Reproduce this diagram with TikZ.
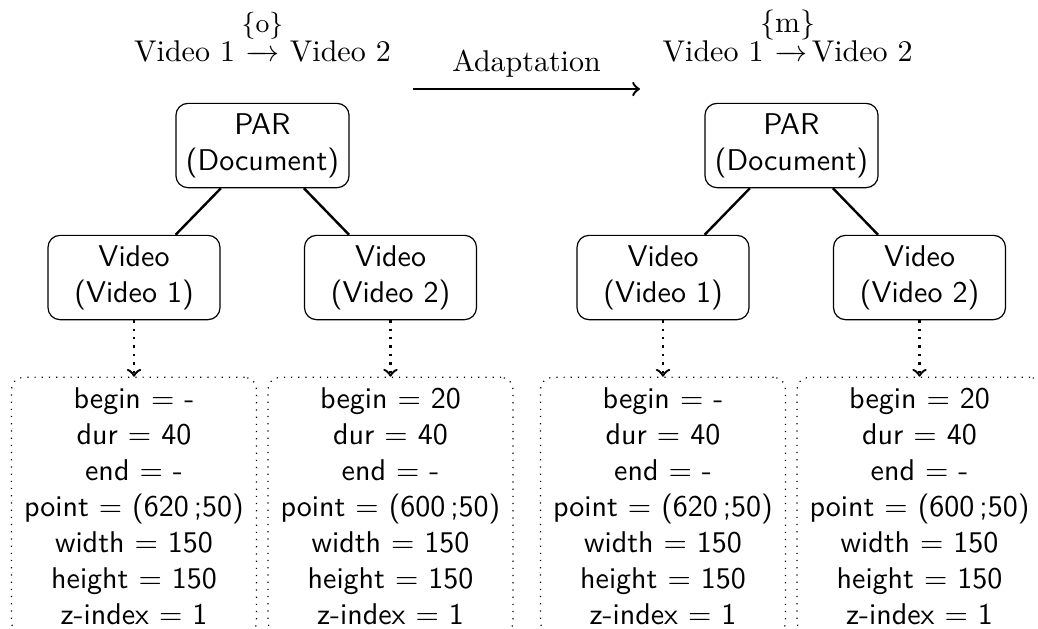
\documentclass[tikz,border=0pt]{standalone}
\begin{document}
\begin{tikzpicture}[x=0.33333pt, y=-0.33333pt,
  box/.style={draw, rounded corners=4pt, font=\sffamily, align=center,
    minimum width=57.33pt, minimum height=27.67pt, inner sep=3.33pt},
  props/.style={draw, dotted, rounded corners=4pt, font=\sffamily, align=center,
    minimum width=81.67pt, anchor=north, inner sep=3.33pt},
  edgeline/.style={thick},
  dotarrow/.style={thick, dotted, ->},
  toplbl/.style={inner sep=0pt, anchor=base}]
\useasboundingbox (0,0) rectangle (1038,628);
\clip (0,0) rectangle (1038,628);

% top formulas
\node[toplbl] (fa2) at (262.5,61) {$\mathrel{\relbar\mkern-12mu\rightarrow}$};
\node[inner sep=0pt, anchor=base east] (fa1) at ([xshift=-3.2pt]fa2.base west) {Video 1};
\node[inner sep=0pt, anchor=base west] (fa3) at ([xshift=3.2pt]fa2.base east) {Video 2};
\node[toplbl] (fa4) at (262.5,32) {\fontsize{9}{11}\selectfont\{o\}};

\node[toplbl] (fb2) at (791,61) {$\mathrel{\relbar\mkern-12mu\rightarrow}$};
\node[inner sep=0pt, anchor=base east] (fb1) at ([xshift=-3.2pt]fb2.base west) {Video 1};
\node[inner sep=0pt, anchor=base west] (fb3) at ([xshift=1pt]fb2.base east) {Video 2};
\node[toplbl] (fb4) at (787.5,32) {\{m\}};

% adaptation arrow
\coordinate (as) at (413,89);
\coordinate (ae) at (640,89);
\draw[thick,->] (as) -- node[above] (ad) {Adaptation} (ae);

% left tree
\node[box] (p1) at (262.5,145.5) {PAR\\(Document)};
\node[box] (v11) at (134,277.5) {Video\\(Video 1)};
\node[box] (v12) at (390.5,277.5) {Video\\(Video 2)};
\draw[edgeline] (p1) -- (v11);
\draw[edgeline] (p1) -- (v12);

% right tree
\node[box] (p2) at (791.5,145.5) {PAR\\(Document)};
\node[box] (v21) at (663,277.5) {Video\\(Video 1)};
\node[box] (v22) at (919.5,277.5) {Video\\(Video 2)};
\draw[edgeline] (p2) -- (v21);
\draw[edgeline] (p2) -- (v22);

% property boxes
\node[props] (d11) at (134,376.7) {begin $=$ -\\ dur $=$ 40\\ end $=$ -\\ point $=$ (620\,;50)\\ width $=$ 150\\ height $=$ 150\\ z-index $=$ 1};
\node[props] (d12) at (390.5,376.7) {begin $=$ 20\\ dur $=$ 40\\ end $=$ -\\ point $=$ (600\,;50)\\ width $=$ 150\\ height $=$ 150\\ z-index $=$ 1};
\node[props] (d21) at (663,376.7) {begin $=$ -\\ dur $=$ 40\\ end $=$ -\\ point $=$ (620\,;50)\\ width $=$ 150\\ height $=$ 150\\ z-index $=$ 1};
\node[props] (d22) at (919.5,376.7) {begin $=$ 20\\ dur $=$ 40\\ end $=$ -\\ point $=$ (600\,;50)\\ width $=$ 150\\ height $=$ 150\\ z-index $=$ 1};

\draw[dotarrow] (v11.south) -- (d11.north);
\draw[dotarrow] (v12.south) -- (d12.north);
\draw[dotarrow] (v21.south) -- (d21.north);
\draw[dotarrow] (v22.south) -- (d22.north);
\end{tikzpicture}
\end{document}
